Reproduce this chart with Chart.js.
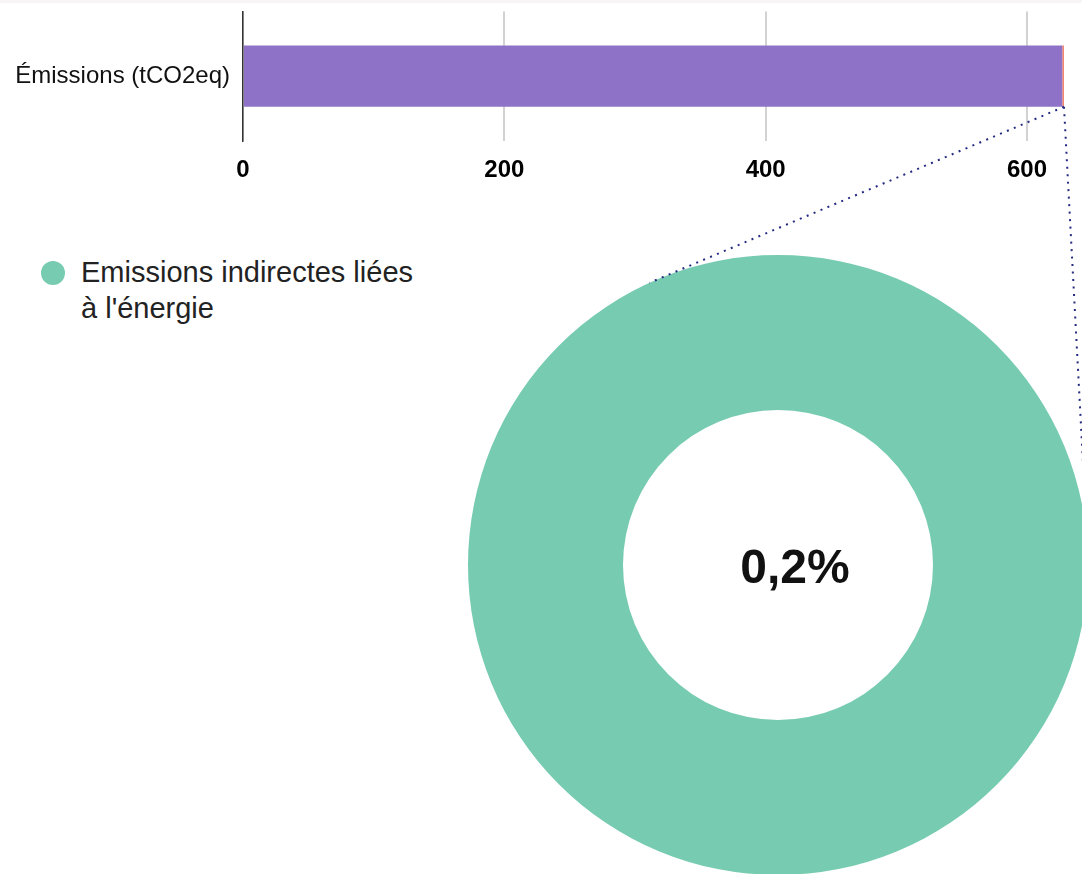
<!DOCTYPE html>
<html>
<head>
<meta charset="utf-8">
<script src="https://cdn.jsdelivr.net/npm/chart.js@4/dist/chart.umd.min.js"></script>
<style>
  html, body { margin: 0; padding: 0; background: #fff; overflow: hidden; width: 1082px; height: 874px; }
  #topStrip { position: absolute; left: 0; top: 0; width: 1082px; height: 3px; background: #f7f5f6; }
  #barWrap { position: absolute; left: 0; top: -16px; width: 1082px; height: 201px; }
  #donutWrap { position: absolute; left: 468px; top: 255px; width: 620px; height: 620px; }
  #legend { position: absolute; left: 41px; top: 254px; width: 388px; font-family: "Liberation Sans", Arial, sans-serif; font-size: 29px; line-height: 36px; color: #222; }
  #legend .item { position: relative; padding-left: 40px; }
  #legend .dot { position: absolute; left: 0; top: 7px; width: 24px; height: 24px; border-radius: 50%; }
  #overlay { position: absolute; left: 0; top: 0; pointer-events: none; }
</style>
</head>
<body>
<div id="topStrip"></div>
<div id="barWrap"><canvas id="barChart"></canvas></div>
<div id="donutWrap"><canvas id="donutChart"></canvas></div>
<div id="legend"></div>
<canvas id="overlay" width="1082" height="874"></canvas>
<script>
// stacked bar (tCO2eq)
const barCategories = ['Émissions (tCO2eq)'];
const barSeriesNames = ['Autres émissions', 'Emissions indirectes liées à l\'énergie'];
const barValues = [627, 1.3];
const barColors = ['#8e72c8', '#f4866f'];
const xTicks = [0, 200, 400, 600];

// breakdown of the small segment
const donutLabels = ['Emissions indirectes liées à l\'énergie'];
const donutValues = [1.3];
const donutColors = ['#76cbb0'];

const total = barValues.reduce((a, b) => a + b, 0);
const share = barValues[1] / total * 100;
const shareText = share.toFixed(1).replace('.', ',') + '%';

const font = '"Liberation Sans", Arial, sans-serif';

const barChart = new Chart(document.getElementById('barChart'), {
    type: 'bar',
    data: {
        labels: barCategories,
        datasets: barSeriesNames.map((name, i) => ({
            label: name,
            data: [barValues[i]],
            backgroundColor: barColors[i],
            borderWidth: 0,
            barPercentage: 0.59,
            categoryPercentage: 0.8
        }))
    },
    options: {
        indexAxis: 'y',
        responsive: true,
        maintainAspectRatio: false,
        animation: false,
        layout: {padding: {top: 0, right: 18, left: 0, bottom: 0}},
        plugins: {legend: {display: false}, tooltip: {enabled: false}},
        scales: {
            x: {
                stacked: true,
                min: 0,
                max: total,
                afterFit: s => { s.height = 44 },
                afterBuildTicks: s => { s.ticks = xTicks.map(v => ({value: v})) },
                grid: {color: '#d2d2d2', lineWidth: 2, drawTicks: false},
                border: {display: false},
                ticks: {padding: 15, color: '#000', font: {family: font, size: 24, weight: 'bold'}}
            },
            y: {
                stacked: true,
                afterFit: s => { s.width = 243 },
                grid: {display: false, drawTicks: false},
                border: {display: true, color: '#333', width: 1.5},
                ticks: {padding: 13, color: '#111', font: {family: font, size: 24}}
            }
        }
    }
});

const centerText = {
    id: 'centerText',
    afterDraw(chart) {
        const arc = chart.getDatasetMeta(0).data[0];
        const ctx = chart.ctx;
        ctx.save();
        ctx.font = 'bold 48px ' + font;
        ctx.fillStyle = '#111';
        ctx.textAlign = 'center';
        ctx.textBaseline = 'alphabetic';
        ctx.fillText(shareText, arc.x + 17, arc.y + 18);
        ctx.restore();
    }
};

const donutChart = new Chart(document.getElementById('donutChart'), {
    type: 'doughnut',
    data: {
        labels: donutLabels,
        datasets: [{data: donutValues, backgroundColor: donutColors, borderWidth: 0}]
    },
    options: {
        responsive: true,
        maintainAspectRatio: false,
        animation: false,
        cutout: '50%',
        plugins: {legend: {display: false}, tooltip: {enabled: false}}
    },
    plugins: [centerText]
});

// html legend from the doughnut labels
const legendEl = document.getElementById('legend');
donutLabels.forEach((lbl, i) => {
    const item = document.createElement('div');
    item.className = 'item';
    item.innerHTML = '<span class="dot" style="background:' + donutColors[i] + '"></span>';
    item.appendChild(document.createTextNode(lbl));
    legendEl.appendChild(item);
});

// dotted connectors: bar end -> tangents of the doughnut
function drawConnectors() {
    const ov = document.getElementById('overlay');
    const ctx = ov.getContext('2d');
    ctx.clearRect(0, 0, ov.width, ov.height);
    const bRect = barChart.canvas.getBoundingClientRect();
    const dRect = donutChart.canvas.getBoundingClientRect();
    const bar = barChart.getDatasetMeta(1).data[0];
    const px = bRect.left + barChart.scales.x.getPixelForValue(total);
    const py = bRect.top + bar.y + bar.height / 2;
    const arc = donutChart.getDatasetMeta(0).data[0];
    const cx = dRect.left + arc.x, cy = dRect.top + arc.y, r = arc.outerRadius;
    const dx = cx - px, dy = cy - py;
    const d = Math.sqrt(dx * dx + dy * dy);
    const base = Math.atan2(dy, dx);
    const a = Math.asin(r / d);
    const len = Math.sqrt(d * d - r * r);
    ctx.save();
    ctx.strokeStyle = '#232a80';
    ctx.lineWidth = 2;
    ctx.setLineDash([2, 5.5]);
    [base + a, base - a].forEach(ang => {
        ctx.beginPath();
        ctx.moveTo(px, py);
        ctx.lineTo(px + Math.cos(ang) * (len + 8), py + Math.sin(ang) * (len + 8));
        ctx.stroke();
    });
    ctx.restore();
}
drawConnectors();
</script>
</body>
</html>
